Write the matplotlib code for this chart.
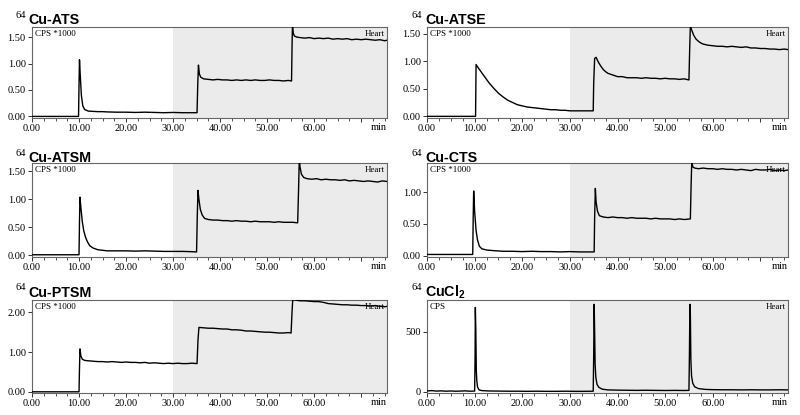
import matplotlib
matplotlib.use('Agg')
import matplotlib.pyplot as plt
from matplotlib.ticker import MultipleLocator, FixedLocator, FixedFormatter

plt.rcParams['mathtext.fontset'] = 'custom'
plt.rcParams['mathtext.rm'] = 'Liberation Sans:bold'
plt.rcParams['mathtext.bf'] = 'Liberation Sans:bold'

# (time in min, counts)
ats = [(0, 0.00), (9.9, 0.00), (10.0, 0.60), (10.1, 1.07), (10.25, 0.80), (10.5, 0.40), (10.8, 0.20),
       (11.2, 0.13), (12, 0.10), (13, 0.095), (14, 0.09), (15, 0.09), (16, 0.085), (18, 0.08), (20, 0.08),
       (22, 0.075), (24, 0.08), (26, 0.075), (28, 0.07), (30, 0.075), (32, 0.07), (34, 0.07), (35.1, 0.07),
       (35.25, 0.60), (35.4, 0.97), (35.6, 0.80), (35.9, 0.74), (36.5, 0.71), (37.5, 0.70), (38.5, 0.69),
       (39.5, 0.70), (40.5, 0.69), (41.5, 0.69), (42.5, 0.68), (43.5, 0.69), (44.5, 0.68), (45.5, 0.69),
       (46.5, 0.68), (47.5, 0.69), (48.5, 0.68), (49.5, 0.68), (50.5, 0.69), (51.5, 0.68), (52.5, 0.68),
       (53.5, 0.67), (54.5, 0.68), (55.2, 0.67), (55.3, 1.30), (55.4, 1.75), (55.55, 1.58), (55.8, 1.52),
       (56.3, 1.50), (57, 1.49), (58, 1.48), (59, 1.49), (60, 1.47), (61, 1.48), (62, 1.47), (63, 1.48),
       (64, 1.46), (65, 1.47), (66, 1.46), (67, 1.47), (68, 1.45), (69, 1.46), (70, 1.45), (71, 1.46),
       (72, 1.45), (73, 1.44), (74, 1.45), (75, 1.43), (75.5, 1.44)]

atse = [(0, 0.0), (10.2, 0.0), (10.3, 0.94), (10.6, 0.90), (11, 0.85), (11.5, 0.79), (12, 0.73), (12.5, 0.67),
        (13, 0.61), (14, 0.51), (15, 0.42), (16, 0.35), (17, 0.29), (18, 0.25), (19, 0.21), (20, 0.19),
        (21, 0.17), (22, 0.16), (23, 0.15), (24, 0.14), (25, 0.13), (26, 0.12), (27, 0.12), (28, 0.11),
        (29, 0.11), (30, 0.10), (31, 0.10), (32, 0.10), (33, 0.10), (34, 0.10), (34.9, 0.10), (35.0, 0.60),
        (35.2, 1.05), (35.5, 1.07), (36, 0.98), (36.5, 0.91), (37, 0.85), (37.5, 0.81), (38, 0.78), (39, 0.75),
        (40, 0.72), (41, 0.72), (42, 0.70), (43, 0.70), (44, 0.70), (45, 0.69), (46, 0.70), (47, 0.69),
        (48, 0.69), (49, 0.68), (50, 0.69), (51, 0.68), (52, 0.68), (53, 0.67), (54, 0.68), (55, 0.66),
        (55.15, 1.20), (55.3, 1.65), (55.6, 1.56), (56, 1.47), (56.5, 1.40), (57, 1.36), (57.5, 1.33),
        (58, 1.31), (59, 1.29), (60, 1.28), (61, 1.27), (62, 1.27), (63, 1.26), (64, 1.27), (65, 1.26),
        (66, 1.25), (67, 1.26), (68, 1.24), (69, 1.24), (70, 1.23), (71, 1.23), (72, 1.22), (73, 1.22),
        (74, 1.21), (75, 1.22), (75.8, 1.21)]

atsm = [(0, 0.01), (10.0, 0.01), (10.1, 0.60), (10.2, 1.04), (10.4, 0.85), (10.7, 0.60), (11, 0.44),
        (11.4, 0.32), (11.8, 0.24), (12.3, 0.17), (13, 0.13), (14, 0.10), (15, 0.09), (16, 0.08), (18, 0.08),
        (20, 0.08), (22, 0.075), (24, 0.08), (26, 0.075), (28, 0.07), (30, 0.07), (32, 0.07), (34, 0.065),
        (35.0, 0.06), (35.15, 0.70), (35.3, 1.16), (35.5, 1.00), (35.8, 0.82), (36.2, 0.72), (36.7, 0.66),
        (37.5, 0.64), (38.5, 0.63), (39.5, 0.63), (40.5, 0.62), (41.5, 0.62), (42.5, 0.61), (43.5, 0.62),
        (44.5, 0.61), (45.5, 0.61), (46.5, 0.60), (47.5, 0.61), (48.5, 0.60), (49.5, 0.60), (50.5, 0.60),
        (51.5, 0.59), (52.5, 0.60), (53.5, 0.59), (54.5, 0.59), (55.5, 0.59), (56.5, 0.58), (56.7, 1.20),
        (56.85, 1.75), (57.0, 1.58), (57.3, 1.45), (57.8, 1.39), (58.5, 1.37), (59.5, 1.36), (60.5, 1.37),
        (61.5, 1.35), (62.5, 1.36), (63.5, 1.35), (64.5, 1.35), (65.5, 1.34), (66.5, 1.35), (67.5, 1.33),
        (68.5, 1.34), (69.5, 1.33), (70.5, 1.32), (71.5, 1.33), (72.5, 1.32), (73.5, 1.31), (74.5, 1.33),
        (75.5, 1.32)]

cts = [(0, 0.02), (9.6, 0.02), (9.7, 0.60), (9.8, 1.02), (10.0, 0.70), (10.3, 0.40), (10.6, 0.25), (11, 0.15),
       (11.5, 0.11), (12.5, 0.09), (14, 0.08), (16, 0.07), (18, 0.07), (20, 0.065), (22, 0.07), (24, 0.065),
       (26, 0.065), (28, 0.06), (30, 0.065), (32, 0.06), (34, 0.06), (35.1, 0.06), (35.2, 0.60), (35.35, 1.06),
       (35.5, 0.85), (35.8, 0.70), (36.2, 0.63), (37, 0.61), (38, 0.60), (39, 0.61), (40, 0.60), (41, 0.60),
       (42, 0.59), (43, 0.60), (44, 0.59), (45, 0.59), (46, 0.59), (47, 0.58), (48, 0.59), (49, 0.58),
       (50, 0.58), (51, 0.58), (52, 0.57), (53, 0.58), (54, 0.57), (55.3, 0.58), (55.45, 1.10), (55.6, 1.50),
       (55.8, 1.40), (56.2, 1.38), (57, 1.37), (58, 1.38), (59, 1.37), (60, 1.37), (61, 1.36), (62, 1.37),
       (63, 1.36), (64, 1.36), (65, 1.35), (66, 1.36), (67, 1.35), (68, 1.34), (69, 1.36), (70, 1.35),
       (71, 1.35), (72, 1.36), (73, 1.34), (74, 1.35), (75, 1.34), (75.8, 1.35)]

ptsm = [(0, 0.0), (10.0, 0.0), (10.1, 0.60), (10.2, 1.08), (10.4, 0.90), (10.7, 0.82), (11.2, 0.79), (12, 0.78),
        (13, 0.77), (14, 0.76), (15, 0.76), (16, 0.75), (17, 0.76), (18, 0.75), (19, 0.74), (20, 0.75),
        (21, 0.74), (22, 0.74), (23, 0.73), (24, 0.74), (25, 0.72), (26, 0.73), (27, 0.72), (28, 0.71),
        (29, 0.72), (30, 0.71), (31, 0.72), (32, 0.71), (33, 0.71), (34, 0.72), (35.1, 0.71), (35.3, 1.30),
        (35.5, 1.62), (36.5, 1.61), (37.5, 1.60), (38.5, 1.60), (39.5, 1.59), (40.5, 1.58), (41.5, 1.58),
        (42.5, 1.56), (43.5, 1.56), (44.5, 1.55), (45.5, 1.53), (46.5, 1.53), (47.5, 1.52), (48.5, 1.51),
        (49.5, 1.50), (50.5, 1.50), (51.5, 1.49), (52.5, 1.48), (53.5, 1.48), (54.5, 1.49), (55.1, 1.48),
        (55.3, 2.00), (55.45, 2.32), (56, 2.31), (57, 2.29), (58, 2.29), (59, 2.28), (60, 2.27), (61, 2.27),
        (62, 2.25), (63, 2.22), (64, 2.21), (65, 2.20), (66, 2.19), (67, 2.19), (68, 2.18), (69, 2.18),
        (70, 2.17), (71, 2.17), (72, 2.16), (73, 2.17), (74, 2.15), (75, 2.14), (75.5, 2.15)]

cucl2 = [(0, 5), (1, 8), (2, 4), (3, 6), (4, 3), (5, 5), (6, 3), (7, 4), (8, 6), (9, 3), (10.0, 4), (10.1, 300),
         (10.15, 706), (10.25, 520), (10.35, 180), (10.45, 95), (10.6, 40), (10.9, 15), (11.5, 8), (13, 5),
         (15, 4), (17, 3), (19, 3), (21, 2), (23, 3), (25, 2), (27, 2), (29, 3), (31, 2), (33, 2), (34.9, 3),
         (35.0, 300), (35.1, 732), (35.2, 500), (35.3, 230), (35.45, 120), (35.7, 60), (36.1, 35), (36.8, 20),
         (38, 14), (40, 12), (42, 11), (44, 10), (46, 11), (48, 10), (50, 9), (52, 10), (54, 9), (55.0, 10),
         (55.1, 300), (55.2, 732), (55.3, 650), (55.4, 274), (55.55, 130), (55.8, 70), (56.2, 40), (57, 25),
         (58.5, 18), (60, 16), (62, 15), (64, 15), (66, 14), (68, 15), (70, 14), (72, 14), (74, 15), (75.9, 14)]

titolo = ['Cu-ATS', 'Cu-ATSE', 'Cu-ATSM', 'Cu-CTS', 'Cu-PTSM', r'CuCl$_\mathbf{2}$']
isotopo = '64'
tracce = [ats, atse, atsm, cts, ptsm, cucl2]
ylims = [(-0.03, 1.69), (-0.03, 1.62), (-0.03, 1.65), (-0.02, 1.46), (-0.03, 2.31), (-12, 768)]
yticks = [[0, 0.5, 1.0, 1.5], [0, 0.5, 1.0, 1.5], [0, 0.5, 1.0, 1.5], [0, 0.5, 1.0], [0, 1.0, 2.0], [0, 500]]
unita = ['CPS *1000'] * 5 + ['CPS']

W, H = 800, 415
# axes boxes in pixels
box_col = [(32, 387), (427, 788)]
box_row = [(27, 118), (163, 257), (300, 393)]
title_y = [24, 162, 297]
title_x = [(16, 28), (412, 425)]

fig = plt.figure(figsize=(8, 4.15), dpi=100)
serif = 'Liberation Serif'

for i, dati in enumerate(tracce):
    r, c = divmod(i, 2)
    x0, x1 = box_col[c]
    y0, y1 = box_row[r]
    ax = fig.add_axes([x0 / W, 1 - y1 / H, (x1 - x0) / W, (y1 - y0) / H])
    xmax = 75.5 if c == 0 else 75.8
    ax.set_xlim(0, xmax)
    ax.set_ylim(*ylims[i])
    ax.axvspan(30, xmax, color='#ebebeb', lw=0, zorder=0)

    t = [p[0] for p in dati]
    v = [p[1] for p in dati]
    ax.plot(t, v, color='black', lw=1.0, zorder=3)

    ax.xaxis.set_major_locator(FixedLocator([0, 10, 20, 30, 40, 50, 60, 70]))
    ax.xaxis.set_major_formatter(FixedFormatter(['0.00', '10.00', '20.00', '30.00', '40.00', '50.00', '60.00', '']))
    ax.xaxis.set_minor_locator(MultipleLocator(2.5))
    ax.set_yticks(yticks[i])
    if i == 5:
        ax.set_yticklabels(['0', '500'])
    else:
        ax.set_yticklabels(['%.2f' % y for y in yticks[i]])
    ax.tick_params(which='major', length=3, width=0.7, color='#333333', labelsize=7.5, pad=1.5)
    ax.tick_params(which='minor', length=2, width=0.6, color='#333333')
    for lab in ax.get_xticklabels() + ax.get_yticklabels():
        lab.set_fontfamily(serif)
    for s in ax.spines.values():
        s.set_color('#666666')
        s.set_linewidth(0.8)

    ax.text(0.008, 0.97, unita[i], transform=ax.transAxes, ha='left', va='top',
            fontsize=6.5, family=serif, zorder=2)
    ax.text(0.995, 0.97, 'Heart', transform=ax.transAxes, ha='right', va='top',
            fontsize=6.5, family=serif, zorder=2)
    ax.text(1.0, -0.05, 'min', transform=ax.transAxes, ha='right', va='top',
            fontsize=7.5, family=serif)

    sx, mx = title_x[c]
    fig.text(sx / W, 1 - (title_y[r] - 6.5) / H, isotopo, ha='left', va='baseline',
             fontsize=7.5, family=serif)
    fig.text(mx / W, 1 - title_y[r] / H, titolo[i], ha='left', va='baseline',
             fontsize=10.3, family='Liberation Sans', weight='bold')

fig.savefig('out.png', dpi=100)
